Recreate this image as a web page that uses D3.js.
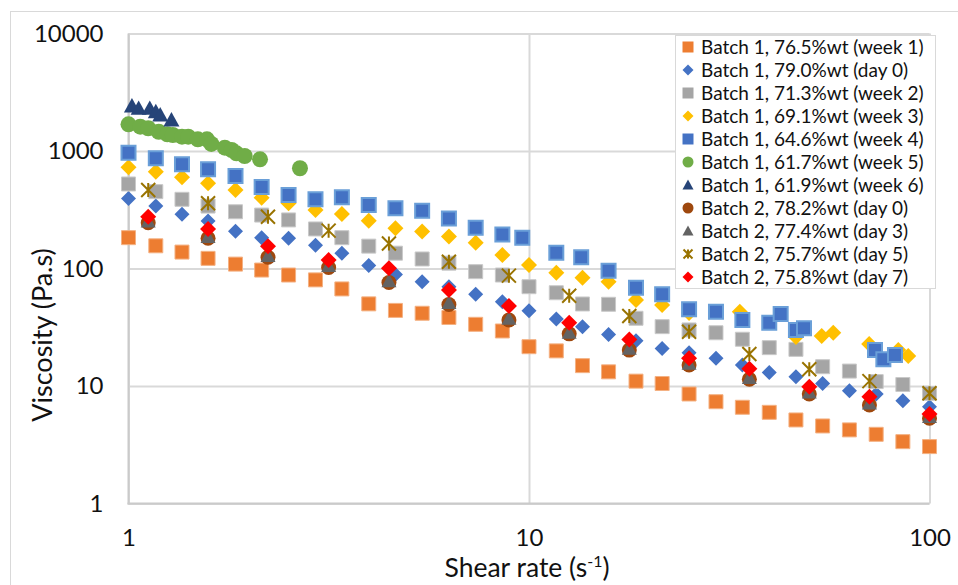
<!DOCTYPE html>
<html>
<head>
<meta charset="utf-8">
<script src="https://cdn.jsdelivr.net/npm/d3@7"></script>
<style>
  html, body { margin: 0; padding: 0; background: #fff; }
  svg { display: block; }
  text { font-family: Lato, "Open Sans", sans-serif; fill: #111; }
</style>
</head>
<body>
<svg id="chart" width="958" height="585"></svg>
<script>
// Shear rates (1/s)
const shearB1 = [1, 1.17, 1.36, 1.58, 1.85, 2.15, 2.51, 2.93, 3.41, 3.98, 4.64, 5.41, 6.31, 7.36, 8.58, 10,
  11.7, 13.6, 15.8, 18.5, 21.5, 25.1, 29.3, 34.1, 39.8, 46.4, 54.1, 63.1, 73.6, 85.8, 100];
const shearWeek3 = [1, 1.17, 1.36, 1.58, 1.85, 2.15, 2.51, 2.93, 3.41, 3.98, 4.64, 5.41, 6.31, 7.36, 8.58, 10,
  11.7, 13.6, 15.8, 18.5, 21.5, 25.1, 33.6, 46.4, 53.8, 57.5, 70.7, 83.6, 88.5];
const shearWeek4 = [1, 1.17, 1.36, 1.58, 1.85, 2.15, 2.51, 2.93, 3.41, 3.98, 4.64, 5.41, 6.31, 7.36, 8.58, 9.62,
  11.7, 13.5, 15.8, 18.5, 21.5, 25.1, 29.3, 34.1, 39.8, 42.5, 46.4, 48.6, 73.1, 76.7, 82.0];
const shearWeek5 = [1, 1.07, 1.12, 1.19, 1.25, 1.29, 1.36, 1.41, 1.49, 1.57, 1.61, 1.74, 1.81, 1.86, 1.95, 2.13, 2.68];
const shearWeek6 = [1.02, 1.06, 1.13, 1.17, 1.2, 1.28];
const shearB2 = [1.12, 1.58, 2.23, 3.16, 4.47, 6.31, 8.91, 12.6, 17.8, 25.1, 35.5, 50.1, 70.8, 100];

// Viscosity (Pa.s)
const b1Week1 = [183, 156, 138, 122, 109, 97, 88, 80, 67, 50, 44, 41.6, 38.3, 33.5, 29.4, 21.6,
  19.9, 14.9, 13.2, 11.0, 10.5, 8.55, 7.35, 6.59, 5.97, 5.14, 4.57, 4.23, 3.88, 3.36, 3.05];
const b1Day0 = [395, 340, 289, 254, 208, 183, 181, 158, 135, 106, 89, 77.2, 70, 60.3, 52.2, 43.7,
  37.2, 32, 27.5, 24.3, 20.9, 19.2, 17.2, 15.1, 13.0, 12.0, 10.5, 9.12, 8.55, 7.5, 6.67];
const b1Week2 = [524, 451, 388, 340, 304, 285, 259, 217, 183, 155, 135, 120.5, 111, 94, 88, 70,
  62.2, 49.9, 49.6, 37.7, 32, 30, 28.4, 25, 21.2, 20.5, 14.6, 13.4, 10.9, 10.3, 8.67];
const b1Week3 = [727, 667, 597, 531, 466, 401, 359, 315, 291, 255, 220, 206, 187, 166, 130, 107,
  92, 83.5, 77, 54, 48.9, 41.8, 42.9, 26.1, 26.7, 28.4, 22.8, 20.2, 18.0];
const b1Week4 = [968, 867, 771, 699, 613, 494, 423, 388, 404, 347, 325, 310, 267, 222, 195, 183,
  136, 124.5, 95.8, 68.7, 60.3, 45, 42.9, 36.5, 34.6, 41, 30, 31, 20.2, 16.9, 18.4];
const b1Week5 = [1687, 1610, 1561, 1459, 1387, 1368, 1324, 1324, 1258, 1258, 1148, 1067, 1020, 956, 907, 850, 713];
const b1Week6 = [2415, 2309, 2309, 2160, 2024, 1837];
const b2Day0 = [245, 181, 124.5, 102, 76, 49.4, 36.5, 27.8, 20.2, 15.1, 11.4, 8.55, 6.89, 5.31];
const b2Day3 = [252, 186, 128, 105, 78, 51, 37.5, 28.5, 20.8, 15.5, 11.7, 8.8, 7.1, 5.45];
const b2Day5 = [466, 359, 276, 210, 163, 114, 86.9, 58.7, 39.4, 29, 18.7, 13.9, 11.0, 8.67];
const b2Day7 = [276, 217, 155, 118, 100.5, 65.7, 48, 34.6, 24.9, 17.2, 14.0, 9.86, 8.11, 5.78];

const seriesNames = [
  "Batch 1, 76.5%wt (week 1)", "Batch 1, 79.0%wt (day 0)", "Batch 1, 71.3%wt (week 2)",
  "Batch 1, 69.1%wt (week 3)", "Batch 1, 64.6%wt (week 4)", "Batch 1, 61.7%wt (week 5)",
  "Batch 1, 61.9%wt (week 6)", "Batch 2, 78.2%wt (day 0)", "Batch 2, 77.4%wt (day 3)",
  "Batch 2, 75.7%wt (day 5)", "Batch 2, 75.8%wt (day 7)"
];
const xTicks = [1, 10, 100];
const yTicks = [1, 10, 100, 1000, 10000];

// marker style for each series, in drawing order
const styles = [
  { shape: "square",   size: 14, fill: "#ED7D31", stroke: "#F4B183", sw: 1 },
  { shape: "diamond",  size: 15, fill: "#4472C4", stroke: "none",    sw: 0 },
  { shape: "square",   size: 14, fill: "#A5A5A5", stroke: "#C9C9C9", sw: 1 },
  { shape: "diamond",  size: 16, fill: "#FFC000", stroke: "none",    sw: 0 },
  { shape: "square",   size: 14, fill: "#4472C4", stroke: "#6A9FD8", sw: 2 },
  { shape: "circle",   size: 16, fill: "#70AD47", stroke: "none",    sw: 0 },
  { shape: "triangle", size: 16, fill: "#264478", stroke: "none",    sw: 0 },
  { shape: "circle",   size: 15, fill: "#9E480E", stroke: "none",    sw: 0 },
  { shape: "triangle", size: 15, fill: "#636363", stroke: "none",    sw: 0 },
  { shape: "star",     size: 14, fill: "none",    stroke: "#997300", sw: 2 },
  { shape: "diamond",  size: 16, fill: "#FF0000", stroke: "none",    sw: 0 }
];

const series = [
  [shearB1, b1Week1], [shearB1, b1Day0], [shearB1, b1Week2], [shearWeek3, b1Week3],
  [shearWeek4, b1Week4], [shearWeek5, b1Week5], [shearWeek6, b1Week6],
  [shearB2, b2Day0], [shearB2, b2Day3], [shearB2, b2Day5], [shearB2, b2Day7]
].map(([xs, ys], i) => ({
  name: seriesNames[i],
  style: styles[i],
  points: xs.map((x, j) => ({ x, y: ys[j] }))
}));

// marker path centred on 0,0; s = overall width
function markerPath(shape, s) {
  const h = s / 2;
  switch (shape) {
    case "square":
      return `M${-h},${-h}H${h}V${h}H${-h}Z`;
    case "diamond":
      return `M0,${-h}L${h},0L0,${h}L${-h},0Z`;
    case "circle":
      return `M${h},0A${h},${h} 0 1,1 ${-h},0A${h},${h} 0 1,1 ${h},0Z`;
    case "triangle": {
      const th = s * 0.9;
      return `M0,${-th * 0.55}L${h},${th * 0.45}L${-h},${th * 0.45}Z`;
    }
    case "star":
      return `M${-h},${-h}L${h},${h}M${h},${-h}L${-h},${h}M0,${-h}V${h}`;
  }
}

const svg = d3.select("#chart");
svg.append("rect").attr("width", 958).attr("height", 585).attr("fill", "#fff");

// outer chart border
svg.append("rect")
  .attr("x", 10.5).attr("y", 11.5).attr("width", 980).attr("height", 620)
  .attr("fill", "none").attr("stroke", "#D9D9D9").attr("stroke-width", 1);

const plot = { left: 128.5, right: 929.5, top: 33.5, bottom: 503.5 };

const x = d3.scaleLog().domain([1, 100]).range([plot.left, plot.right]);
const y = d3.scaleLog().domain([1, 10000]).range([plot.bottom, plot.top]);

// grid + tick labels
const yAxis = svg.append("g")
  .attr("transform", `translate(${plot.left},0)`)
  .call(d3.axisLeft(y).tickValues(yTicks).tickFormat(d3.format("d"))
    .tickSize(-(plot.right - plot.left)).tickPadding(25));
const xAxis = svg.append("g")
  .attr("transform", `translate(0,${plot.bottom})`)
  .call(d3.axisBottom(x).tickValues(xTicks).tickFormat(d3.format("d"))
    .tickSize(-(plot.bottom - plot.top)).tickPadding(25));

[yAxis, xAxis].forEach(g => {
  g.select(".domain").remove();
  g.selectAll(".tick line").attr("stroke", "#D9D9D9").attr("stroke-width", 2);
  g.selectAll(".tick text")
    .attr("font-family", "Lato, Open Sans, sans-serif")
    .attr("font-size", 24).attr("fill", "#111");
});

// axis lines
svg.append("line")
  .attr("x1", plot.left).attr("x2", plot.left).attr("y1", plot.top).attr("y2", plot.bottom + 1)
  .attr("stroke", "#CACACA").attr("stroke-width", 2);
svg.append("line")
  .attr("x1", plot.left - 1).attr("x2", plot.right).attr("y1", plot.bottom).attr("y2", plot.bottom)
  .attr("stroke", "#CACACA").attr("stroke-width", 2);

// axis titles
const xt = svg.append("text")
  .attr("x", 527).attr("y", 577).attr("text-anchor", "middle").attr("font-size", 26.5);
xt.append("tspan").text("Shear rate (s");
xt.append("tspan").attr("font-size", 16).attr("dy", -10).text("-1");
xt.append("tspan").attr("dy", 10).text(")");

svg.append("text")
  .attr("transform", "translate(52,335) rotate(-90)")
  .attr("text-anchor", "middle").attr("font-size", 27)
  .text("Viscosity (Pa.s)");

// data markers
const marks = svg.append("g");
series.forEach(s => {
  marks.append("g").selectAll("path")
    .data(s.points)
    .join("path")
    .attr("transform", d => `translate(${x(d.x)},${y(d.y)})`)
    .attr("d", markerPath(s.style.shape, s.style.size))
    .attr("fill", s.style.fill)
    .attr("stroke", s.style.stroke)
    .attr("stroke-width", s.style.sw);
});

// legend
const legend = svg.append("g");
const lg = { x: 675.5, y: 35.5, w: 260, h: 253, row: 23, first: 47 };
legend.append("rect")
  .attr("x", lg.x).attr("y", lg.y).attr("width", lg.w).attr("height", lg.h)
  .attr("fill", "#fff").attr("stroke", "#D9D9D9").attr("stroke-width", 1);

const items = legend.selectAll("g.item").data(series).join("g")
  .attr("class", "item")
  .attr("transform", (d, i) => `translate(688,${lg.first + i * lg.row})`);
items.append("path")
  .attr("d", d => markerPath(d.style.shape, d.style.shape === "star" ? 9 : 11))
  .attr("fill", d => d.style.fill)
  .attr("stroke", d => d.style.shape === "star" ? d.style.stroke : "none")
  .attr("stroke-width", d => d.style.shape === "star" ? 2 : 0);
const labels = items.append("text")
  .attr("x", 13).attr("dy", "0.36em").attr("font-size", 18)
  .text(d => d.name);

// size legend text so the longest label spans the box
const widest = d3.max(labels.nodes(), n => n.getComputedTextLength());
const fs = Math.min(19, 18 * 227 / widest);
labels.attr("font-size", fs.toFixed(2));
</script>
</body>
</html>
